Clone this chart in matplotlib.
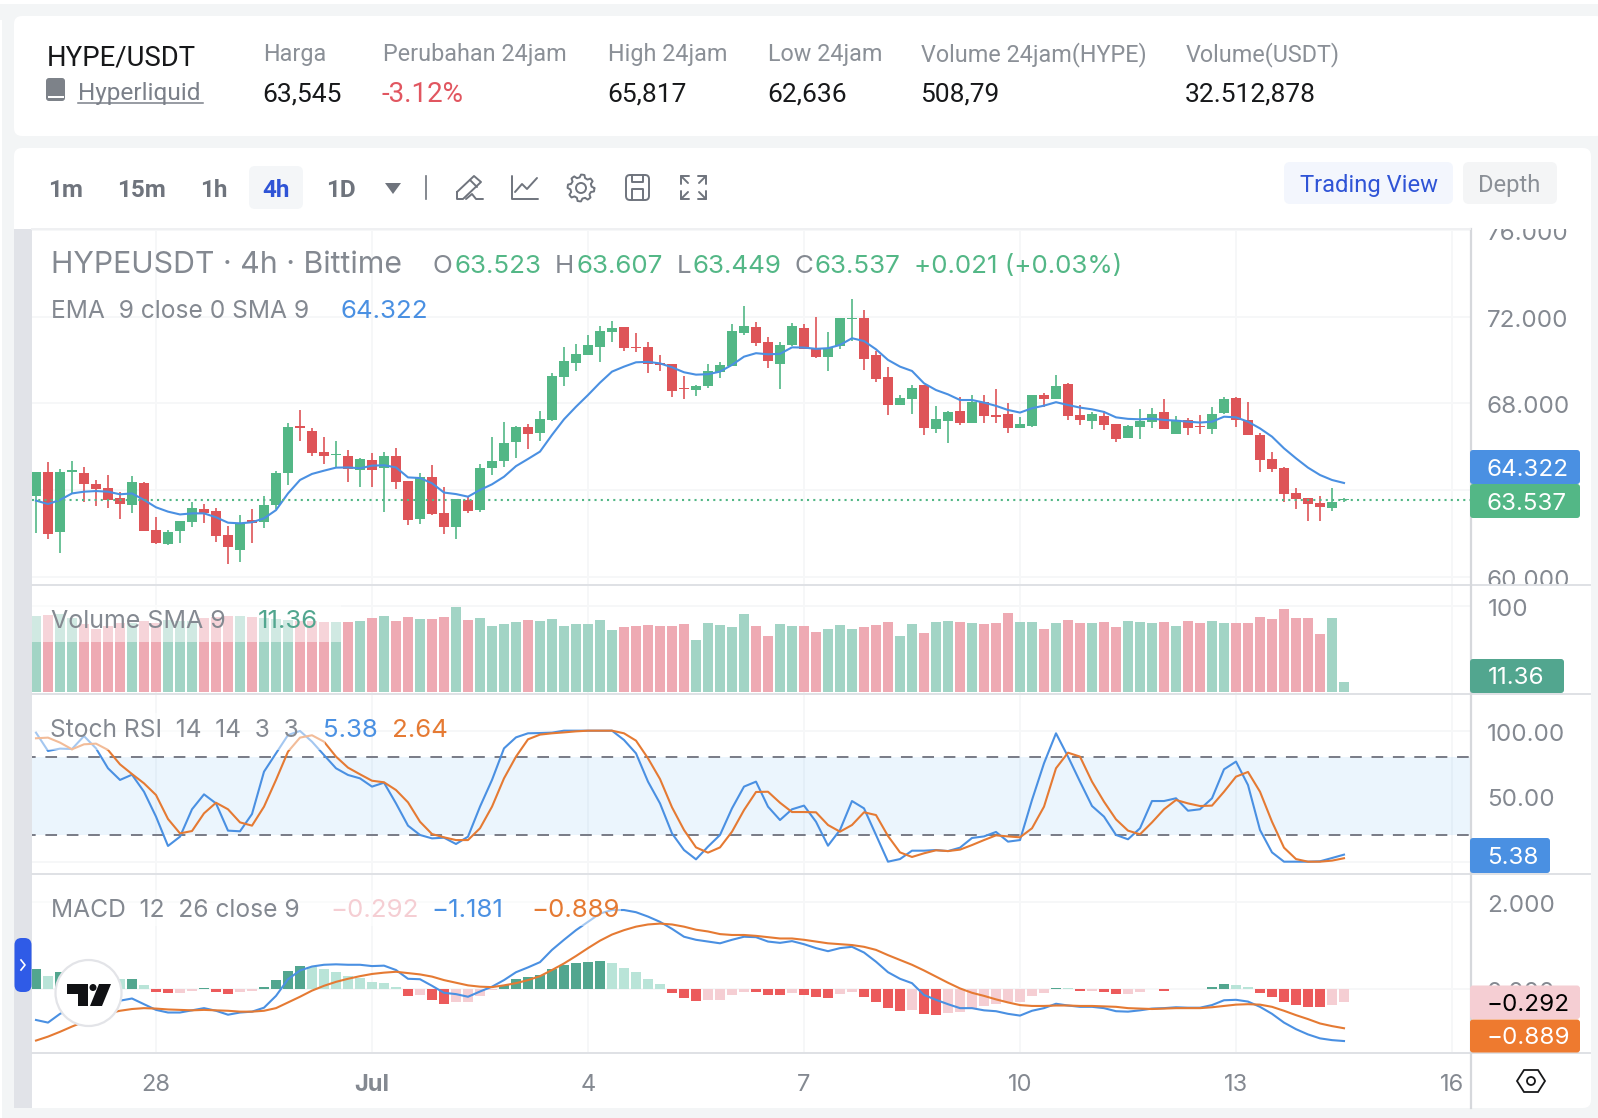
import numpy as np
import matplotlib
matplotlib.use('Agg')
import matplotlib.pyplot as plt
from matplotlib.patches import FancyBboxPatch, Rectangle, Circle, Polygon
from matplotlib.transforms import ScaledTranslation

plt.rcParams['font.family'] = ['Inter', 'DejaVu Sans']

W, H = 1598, 1118

# 4h candles
opens = [63.74, 64.83, 62.07, 64.81, 64.77, 64.27, 64.09, 63.63, 63.32, 64.32,
         62.15, 61.51, 62.11, 62.54, 63.14, 63.04, 61.91, 61.24, 62.61, 62.54,
         63.31, 64.78, 66.95, 66.72, 65.75, 65.63, 65.55, 64.94, 65.37, 65.03,
         65.55, 64.40, 62.67, 64.58, 62.92, 62.29, 63.52, 63.07, 65.01, 65.34,
         66.23, 66.91, 66.64, 67.23, 69.21, 69.87, 70.24, 70.61, 71.29, 71.52,
         70.61, 70.60, 69.86, 69.81, 68.71, 68.63, 68.80, 69.43, 69.72, 71.24,
         71.52, 70.83, 69.81, 70.69, 71.47, 70.55, 70.14, 70.64, 71.89, 71.94,
         70.23, 69.21, 67.92, 68.20, 68.84, 66.81, 67.18, 67.64, 67.09, 68.06,
         67.46, 67.51, 66.86, 66.95, 68.38, 68.20, 68.89, 67.46, 67.18, 67.41,
         67.04, 66.40, 66.91, 67.14, 67.60, 66.58, 67.23, 66.95, 66.81, 67.55,
         68.24, 67.23, 66.54, 65.43, 65.01, 63.86, 63.63, 63.40, 63.17, 63.523]
highs = [64.83, 65.27, 64.95, 65.34, 65.06, 64.46, 64.69, 63.91, 64.64, 64.38,
         62.75, 62.15, 62.57, 63.43, 63.35, 63.15, 62.34, 62.84, 63.14, 63.72,
         64.86, 67.07, 67.69, 66.84, 66.44, 66.26, 65.84, 65.47, 65.71, 65.74,
         65.94, 64.41, 64.77, 65.15, 64.14, 63.58, 63.72, 65.20, 66.44, 67.14,
         66.95, 67.03, 67.64, 69.38, 70.60, 70.74, 71.15, 71.57, 71.80, 71.52,
         71.24, 70.83, 70.23, 69.81, 69.26, 68.84, 69.81, 69.91, 71.66, 72.49,
         71.75, 71.06, 70.83, 71.71, 71.66, 71.98, 71.29, 71.94, 72.81, 72.31,
         70.41, 69.67, 68.38, 68.84, 68.86, 67.87, 67.64, 68.29, 68.38, 68.38,
         68.66, 68.00, 67.35, 68.38, 68.47, 69.31, 68.92, 67.92, 67.60, 67.64,
         67.04, 67.00, 67.74, 67.78, 68.20, 67.41, 67.32, 67.46, 67.83, 68.29,
         68.27, 68.06, 66.64, 65.75, 65.04, 64.09, 63.63, 63.72, 64.09, 63.607]
lows = [62.00, 61.75, 61.07, 63.84, 63.46, 63.26, 63.18, 62.67, 62.92, 62.12,
        61.51, 61.47, 61.57, 62.31, 62.49, 61.61, 60.60, 60.69, 61.57, 62.26,
        63.11, 64.23, 66.27, 65.58, 65.21, 65.07, 64.37, 64.15, 64.15, 63.00,
        64.04, 62.40, 62.44, 62.86, 61.98, 61.75, 62.92, 63.00, 64.69, 65.07,
        65.49, 65.91, 66.27, 67.20, 68.80, 69.51, 70.24, 69.92, 70.84, 70.43,
        70.37, 69.41, 69.51, 68.29, 68.21, 68.34, 68.72, 69.18, 69.72, 71.15,
        70.64, 69.63, 68.67, 70.64, 70.51, 70.11, 69.51, 70.51, 70.87, 69.54,
        68.98, 67.46, 67.92, 67.51, 66.54, 66.63, 66.17, 67.00, 67.07, 67.09,
        67.09, 66.64, 66.86, 66.89, 67.84, 68.20, 67.23, 67.00, 66.81, 66.77,
        66.21, 66.40, 66.35, 66.86, 66.81, 66.58, 66.54, 66.58, 66.58, 67.51,
        66.91, 66.54, 64.83, 64.83, 63.44, 63.12, 62.57, 62.57, 63.03, 63.449]
closes = [64.83, 61.98, 64.83, 64.92, 64.29, 64.04, 63.54, 63.37, 64.35, 62.12,
          61.54, 62.06, 62.57, 63.17, 62.94, 61.87, 61.38, 62.44, 62.47, 63.31,
          64.78, 66.91, 66.84, 65.71, 65.58, 65.67, 64.97, 65.43, 64.94, 65.57,
          64.38, 62.63, 64.58, 62.89, 62.31, 63.58, 63.04, 65.01, 65.34, 66.17,
          66.92, 66.60, 67.27, 69.26, 69.95, 70.27, 70.69, 71.34, 71.47, 70.55,
          70.55, 69.81, 69.77, 68.58, 68.64, 68.81, 69.49, 69.75, 71.34, 71.57,
          70.78, 69.95, 70.69, 71.57, 70.51, 70.14, 70.55, 71.94, 71.94, 70.04,
          69.12, 67.92, 68.24, 68.71, 66.86, 67.27, 67.60, 67.09, 68.07, 67.41,
          67.37, 66.86, 67.04, 68.38, 68.20, 68.80, 67.41, 67.23, 67.51, 67.00,
          66.35, 66.95, 67.18, 67.51, 66.81, 67.18, 66.86, 66.89, 67.51, 68.20,
          67.23, 66.54, 65.38, 64.97, 63.81, 63.58, 63.35, 63.21, 63.44, 63.537]

ema = [63.51, 63.35, 63.54, 63.84, 63.92, 63.95, 63.92, 63.80, 63.84, 63.54,
       63.20, 63.00, 62.87, 62.92, 62.92, 62.74, 62.49, 62.46, 62.51, 62.69,
       63.07, 63.84, 64.46, 64.74, 64.89, 65.03, 65.04, 65.00, 65.12, 65.14,
       65.04, 64.58, 64.55, 64.31, 63.88, 63.81, 63.69, 64.00, 64.26, 64.61,
       65.10, 65.43, 65.77, 66.54, 67.26, 67.84, 68.38, 68.95, 69.46, 69.69,
       69.89, 69.91, 69.84, 69.66, 69.43, 69.32, 69.34, 69.46, 69.77, 70.15,
       70.31, 70.26, 70.28, 70.58, 70.57, 70.51, 70.54, 70.69, 71.00, 70.87,
       70.49, 70.00, 69.69, 69.49, 68.92, 68.61, 68.41, 68.15, 68.15, 68.03,
       67.88, 67.69, 67.57, 67.77, 67.89, 68.05, 67.92, 67.80, 67.72, 67.60,
       67.35, 67.28, 67.26, 67.29, 67.23, 67.20, 67.15, 67.11, 67.15, 67.38,
       67.35, 67.15, 66.84, 66.46, 65.92, 65.46, 65.03, 64.69, 64.46, 64.322]

volume = [88.0, 89.1, 90.3, 85.3, 78.7, 72.5, 76.4, 79.5, 79.5, 81.8,
          79.5, 83.3, 82.6, 82.6, 85.3, 87.2, 88.0, 88.0, 86.4, 85.3,
          84.1, 83.3, 82.6, 82.2, 81.4, 81.0, 81.0, 82.2, 85.7, 88.0,
          82.2, 86.8, 84.5, 84.5, 86.8, 98.5, 83.3, 85.7, 76.4, 78.7,
          81.0, 83.3, 82.2, 84.5, 76.4, 78.7, 78.7, 83.3, 71.7, 75.2,
          76.4, 77.5, 76.4, 76.4, 78.7, 60.1, 79.8, 77.5, 75.2, 90.3,
          76.4, 64.7, 78.7, 76.4, 76.4, 69.4, 72.9, 77.5, 72.9, 75.2,
          77.5, 81.0, 64.7, 78.7, 68.2, 81.0, 82.2, 81.0, 79.8, 78.7,
          79.8, 91.5, 81.0, 81.0, 72.9, 79.8, 83.3, 79.8, 79.8, 81.0,
          75.2, 82.2, 81.0, 79.8, 81.0, 76.4, 82.2, 79.8, 82.2, 79.8,
          79.8, 79.8, 86.8, 84.5, 96.1, 85.7, 85.7, 67.1, 85.7, 11.36]

stoch_k = [98.5, 84.5, 86.3, 86.0, 95.9, 86.5, 71.3, 62.4, 66.4, 53.4,
           34.4, 12.0, 19.1, 40.0, 51.4, 44.5, 23.7, 23.2, 36.4, 68.7,
           82.7, 96.7, 99.8, 91.6, 81.4, 71.3, 66.2, 63.6, 57.3, 60.3,
           44.5, 27.5, 20.4, 17.8, 18.3, 13.5, 19.1, 42.0, 62.4, 86.5,
           94.9, 98.0, 98.2, 98.5, 100.0, 100.0, 100.0, 100.0, 100.0, 92.9,
           82.7, 61.1, 44.5, 21.6, 8.9, 1.8, 11.5, 20.4, 40.7, 57.3,
           61.1, 42.0, 31.8, 40.0, 42.8, 30.5, 12.2, 24.2, 46.3, 40.7,
           20.4, 0.0, 2.0, 8.4, 8.4, 8.9, 8.1, 10.7, 18.1, 19.3,
           22.7, 15.3, 16.5, 47.1, 75.1, 98.0, 80.2, 61.1, 42.5, 34.4,
           20.4, 17.1, 25.5, 46.3, 46.3, 48.4, 38.9, 40.0, 48.4, 70.5,
           76.4, 58.5, 24.2, 7.1, 0.0, 0.0, 0.0, 0.3, 2.8, 5.38]
stoch_d = [94.2, 94.7, 90.9, 85.8, 89.6, 90.1, 85.3, 74.3, 66.9, 59.8,
           50.9, 32.6, 21.6, 23.4, 36.9, 45.0, 40.0, 30.0, 27.5, 42.0,
           62.4, 84.0, 94.7, 96.5, 91.6, 80.2, 71.8, 66.7, 61.8, 60.6,
           54.7, 45.3, 30.5, 21.1, 18.6, 16.5, 16.5, 25.5, 42.0, 63.6,
           80.2, 93.4, 97.0, 98.0, 98.7, 99.5, 100.0, 100.0, 100.0, 98.0,
           92.4, 78.9, 63.1, 41.5, 24.2, 10.9, 6.9, 10.9, 22.9, 39.4,
           53.2, 53.4, 45.0, 37.9, 37.9, 37.7, 28.0, 22.9, 28.0, 37.7,
           35.6, 19.6, 7.1, 3.6, 6.4, 8.7, 8.1, 9.2, 12.7, 16.5,
           20.1, 19.3, 18.6, 25.5, 42.0, 71.3, 83.2, 80.2, 61.1, 45.8,
           32.3, 23.7, 20.9, 30.0, 40.0, 47.1, 44.5, 42.5, 42.8, 53.4,
           64.9, 68.5, 53.4, 30.5, 10.7, 2.0, 0.0, 0.0, 0.8, 2.64]

macd_hist = [0.464, 0.304, 0.395, 0.289, 0.213, 0.175, 0.259, 0.236, 0.236, 0.099,
             -0.068, -0.076, -0.076, -0.030, 0.038, -0.053, -0.099, -0.053, -0.030, 0.053,
             0.213, 0.418, 0.532, 0.502, 0.471, 0.395, 0.304, 0.259, 0.167, 0.144,
             0.053, -0.144, -0.129, -0.236, -0.327, -0.281, -0.281, -0.144, -0.015, 0.099,
             0.236, 0.281, 0.327, 0.464, 0.555, 0.601, 0.624, 0.646, 0.601, 0.487,
             0.395, 0.236, 0.122, -0.084, -0.198, -0.266, -0.243, -0.243, -0.129, -0.061,
             -0.061, -0.129, -0.129, -0.084, -0.129, -0.175, -0.198, -0.106, -0.061, -0.175,
             -0.289, -0.426, -0.494, -0.471, -0.563, -0.586, -0.540, -0.517, -0.426, -0.380,
             -0.335, -0.289, -0.289, -0.152, -0.084, 0.030, 0.023, -0.038, -0.038, -0.061,
             -0.106, -0.106, -0.061, 0.015, -0.038, 0.015, 0.015, 0.015, 0.053, 0.122,
             0.099, 0.053, -0.084, -0.175, -0.289, -0.357, -0.403, -0.403, -0.357, -0.292]
# G rising above zero, g falling above zero, R falling below zero, r rising below zero
macd_state = ('GgGgggGgGg' + 'RRrrGRRrrG' + 'GGGggggggg' + 'gRrRRrrrrG' + 'GGGGGGGGgg'
              + 'gggRRRrrrr' + 'RRRrRRRrrR' + 'RRRrRRrrrr' + 'rrrrrGgRrR'
              + 'RrrGRGgGGG' + 'ggRRRRRRrr')
macd_line = [-0.70, -0.76, -0.56, -0.43, -0.36, -0.28, -0.30, -0.26, -0.21, -0.34,
             -0.47, -0.53, -0.53, -0.48, -0.43, -0.49, -0.58, -0.53, -0.51, -0.42,
             -0.15, 0.23, 0.43, 0.52, 0.56, 0.57, 0.56, 0.56, 0.53, 0.54,
             0.44, 0.24, 0.23, 0.08, -0.08, -0.11, -0.17, -0.05, 0.06, 0.21,
             0.39, 0.50, 0.62, 0.90, 1.13, 1.35, 1.54, 1.73, 1.81, 1.81,
             1.76, 1.66, 1.54, 1.38, 1.20, 1.13, 1.09, 1.05, 1.13, 1.20,
             1.19, 1.09, 1.06, 1.10, 1.03, 0.94, 0.87, 0.94, 0.97, 0.84,
             0.63, 0.39, 0.24, 0.14, -0.13, -0.24, -0.34, -0.43, -0.43, -0.48,
             -0.50, -0.56, -0.60, -0.49, -0.43, -0.33, -0.37, -0.40, -0.40, -0.43,
             -0.50, -0.51, -0.48, -0.44, -0.43, -0.41, -0.42, -0.42, -0.36, -0.25,
             -0.24, -0.28, -0.40, -0.56, -0.76, -0.91, -1.03, -1.12, -1.16, -1.181]
macd_signal = [-1.17, -1.08, -0.97, -0.85, -0.74, -0.64, -0.55, -0.49, -0.45, -0.43,
               -0.44, -0.46, -0.47, -0.48, -0.47, -0.48, -0.49, -0.51, -0.51, -0.49,
               -0.43, -0.30, -0.17, -0.03, 0.08, 0.17, 0.24, 0.30, 0.35, 0.38,
               0.40, 0.37, 0.34, 0.29, 0.21, 0.15, 0.09, 0.06, 0.05, 0.09,
               0.14, 0.21, 0.30, 0.44, 0.59, 0.76, 0.94, 1.11, 1.25, 1.35,
               1.43, 1.48, 1.50, 1.48, 1.43, 1.36, 1.32, 1.26, 1.24, 1.24,
               1.22, 1.19, 1.16, 1.16, 1.13, 1.09, 1.05, 1.03, 1.01, 0.97,
               0.90, 0.78, 0.67, 0.56, 0.43, 0.29, 0.15, 0.02, -0.08, -0.15,
               -0.23, -0.30, -0.36, -0.38, -0.38, -0.37, -0.37, -0.38, -0.38, -0.39,
               -0.40, -0.43, -0.44, -0.45, -0.44, -0.43, -0.43, -0.43, -0.41, -0.38,
               -0.35, -0.34, -0.35, -0.40, -0.49, -0.59, -0.68, -0.78, -0.84, -0.889]

date_ticks = [10, 28, 46, 64, 82, 100, 118]
date_labels = ['28', 'Jul', '4', '7', '10', '13', '16']

price_ticks = [60, 64, 68, 72, 76]
price_labels = [60, 68, 72, 76]

UP = '#53b786'
DOWN = '#de5458'
BLUE = '#4a90e2'
ORANGE = '#e57a33'
GREY = '#848991'
GRID = '#f6f7f8'
SEP = '#dfe1e5'
MACD_COLORS = {'G': '#52a68f', 'g': '#b9e4d8', 'R': '#ec5a5b', 'r': '#f5ced3'}

LEFT, RIGHT, EDGE = 32, 1470, 1590
SCALE_SIZE = 17.4
n = len(closes)
idx = np.arange(n)
bull = np.array(closes) >= np.array(opens)


def px_axes(x0, y0, x1, y1, z):
    ax = fig.add_axes([x0 / W, 1 - y1 / H, (x1 - x0) / W, (y1 - y0) / H], zorder=z)
    return ax


def make_pane(y0, y1, ylim):
    ax = px_axes(LEFT, y0, RIGHT, y1, 2)
    ax.set_xlim(-1 / 3, 119.5)
    ax.set_ylim(*ylim)
    ax.axis('off')
    ax.patch.set_visible(False)
    ax.vlines(date_ticks, *ylim, color=GRID, lw=1.4, zorder=0)
    scale = px_axes(RIGHT, y0, EDGE, y1, 2)
    scale.set_xlim(RIGHT, EDGE)
    scale.set_ylim(*ylim)
    scale.axis('off')
    return ax, scale


def scale_text(axis, x, v, s):
    # nudged down a little so the digits sit on the grid level
    shift = axis.transData + ScaledTranslation(0, -1.5 / 100, fig.dpi_scale_trans)
    axis.text(x, v, s, color=GREY, fontsize=SCALE_SIZE, va='center_baseline',
              clip_on=True, transform=shift)


fig = plt.figure(figsize=(W / 100, H / 100), dpi=100, facecolor='#f3f5f6')

# page background and cards
bg = px_axes(0, 0, W, H, 0)
bg.set_xlim(0, W)
bg.set_ylim(H, 0)
bg.axis('off')
bg.add_patch(Rectangle((0, 0), W, 4, fc='white', ec='none'))
bg.add_patch(Rectangle((0, 20), 2, H - 20, fc='white', ec='none'))
for x, y, w, h in [(14, 16, 1590, 120), (14, 148, 1577, 960)]:
    bg.add_patch(FancyBboxPatch((x, y), w, h, boxstyle='round,pad=0,rounding_size=8',
                                fc='white', ec='none'))
bg.add_patch(Rectangle((14, 229), 18, 879, fc='#e1e3e8', ec='none'))

# candle pane
ax, sc = make_pane(229, 585, (59.615, 76.04))
ax.hlines(price_ticks, -1, 120, color=GRID, lw=1.4, zorder=0)
colors = [UP if b else DOWN for b in bull]
ax.vlines(idx, lows, highs, color=colors, lw=1.2, zorder=3)
body = np.maximum(np.abs(np.array(closes) - np.array(opens)), 0.05)
ax.bar(idx, body, bottom=np.minimum(opens, closes), width=0.83, color=colors, zorder=3)
ax.plot(idx, ema, color=BLUE, lw=1.5, zorder=4)
ax.axhline(closes[-1], color=UP, lw=1.5, ls=(0, (1, 2)), zorder=5)
for p in price_labels:
    scale_text(sc, 1487, p, f'{p}.000')

# volume pane
ax, sc = make_pane(585, 694, (-2.67, 124))
ax.axhline(100, color=GRID, lw=1.4, zorder=0)
vol_colors = ['#a2d4c5' if b else '#eeaab3' for b in bull]
ax.bar(idx, volume, width=0.85, color=vol_colors, zorder=3)
scale_text(sc, 1488, 100, '100')

# stoch rsi pane
ax, sc = make_pane(694, 874, (-9.4, 128))
ax.hlines([0, 100], -1, 120, color=GRID, lw=1.4, zorder=0)
ax.axhspan(20, 80, color='#2196f3', alpha=0.085, lw=0, zorder=1)
ax.hlines([20, 80], -1, 120, color='#787b86', lw=1.4, ls=(0, (6, 5)), zorder=2)
ax.plot(idx, stoch_k, color=BLUE, lw=1.5, zorder=4)
ax.plot(idx, stoch_d, color=ORANGE, lw=1.5, zorder=5)
for v in [100, 50]:
    scale_text(sc, 1487, v, f'{v}.00')

# macd pane
ax, sc = make_pane(874, 1053, (-1.454, 2.632))
ax.hlines([0, 2], -1, 120, color=GRID, lw=1.4, zorder=0)
ax.bar(idx, macd_hist, width=0.85, color=[MACD_COLORS[s] for s in macd_state], zorder=3)
ax.plot(idx, macd_line, color=BLUE, lw=1.5, zorder=4)
ax.plot(idx, macd_signal, color=ORANGE, lw=1.5, zorder=5)
for v in [2, 0]:
    scale_text(sc, 1487, v, f'{v}.000')

# date axis
xa = px_axes(LEFT, 1053, RIGHT, 1108, 2)
xa.set_xlim(-1 / 3, 119.5)
xa.set_ylim(1, 0)
xa.axis('off')
for t, lab in zip(date_ticks, date_labels):
    xa.text(t, 0.53, lab, color=GREY, fontsize=17, ha='center', va='center_baseline',
            fontweight='bold' if lab == 'Jul' else 'normal')

# everything above the panes
ui = px_axes(0, 0, W, H, 5)
ui.set_xlim(0, W)
ui.set_ylim(H, 0)
ui.axis('off')
ui.patch.set_visible(False)


def label(x, y, s, size, color, font='Roboto', **kw):
    kw.setdefault('va', 'center_baseline')
    return ui.text(x, y, s, fontsize=size, color=color, family=font, **kw)


def box(x, y, w, h, color, r=6, alpha=None, z=1):
    ui.add_patch(FancyBboxPatch((x, y), w, h, boxstyle=f'round,pad=0,rounding_size={r}',
                                fc=color, ec='none', alpha=alpha, zorder=z))


# separators
for y in [585, 694, 874, 1053]:
    ui.plot([LEFT, EDGE], [y, y], color=SEP, lw=1.4, zorder=2)
ui.plot([RIGHT + 1, RIGHT + 1], [229, 1108], color='#d6d8dc', lw=1.6, zorder=2)
ui.plot([LEFT, RIGHT], [229, 229], color='#eff0f2', lw=1.4, zorder=2)

# market summary row
label(47, 55, 'HYPE/USDT', 19.8, '#17181a')
label(78, 91, 'Hyperliquid', 17.6, '#7b8089')
ui.plot([78, 203], [102.5, 102.5], color='#7b8089', lw=1.1)
box(46, 78, 19, 23, '#7d8289', r=3)
ui.add_patch(Rectangle((48, 96), 16, 2, fc='white', ec='none', zorder=2))
for x, cap, val, col, size in [(263, 'Harga', '63,545', '#17181a', 19),
                               (383, 'Perubahan 24jam', '-3.12%', '#e15660', 20),
                               (608, 'High 24jam', '65,817', '#17181a', 19),
                               (768, 'Low 24jam', '62,636', '#17181a', 19),
                               (921, 'Volume 24jam(HYPE)', '508,79', '#17181a', 19),
                               (1186, 'Volume(USDT)', '32.512,878', '#17181a', 19)]:
    label(x, 52, cap, 16.8, '#8b9097')
    label(x - 1, 92, val, size, col)

# toolbar
box(249, 166, 54, 43, '#f4f6f8', r=6)
for x, s, col in [(48, '1m', '#6f747d'), (117, '15m', '#6f747d'), (200, '1h', '#6f747d'),
                  (262, '4h', '#2f54d6'), (326, '1D', '#6f747d')]:
    label(x, 188, s, 17.5, col, fontweight='bold', zorder=3)
ui.add_patch(Polygon([(385, 183), (401, 183), (393, 194)], fc='#6f747d', ec='none'))
ui.plot([426, 426], [176, 199], color='#6f747d', lw=1.2)
ICON = dict(color='#6f747d', lw=1.4, solid_joinstyle='round', solid_capstyle='round')
# pencil
ui.plot([457, 474, 481, 463, 457, 457], [192, 176, 182, 199, 199, 192], **ICON)
ui.plot([470, 477], [180, 187], **ICON)
ui.plot([466, 472, 476, 483], [199, 194, 199, 199], **ICON)
# indicators
ui.plot([512, 512, 538], [176, 199, 199], **ICON)
ui.plot([515, 522, 527, 537], [192, 184, 189, 178], **ICON)
# gear
ang = np.linspace(0, 2 * np.pi, 49)
rad = 12 + 1.4 * np.sign(np.sin(8 * ang + 0.4))
ui.plot(581 + rad * np.cos(ang), 188 + rad * np.sin(ang), **ICON)
ui.add_patch(Circle((581, 188), 5, fc='none', ec='#6f747d', lw=1.4))
# save
ui.add_patch(FancyBboxPatch((626, 175), 23, 25, boxstyle='round,pad=0,rounding_size=4',
                            fc='none', ec='#6f747d', lw=1.4))
ui.plot([632, 632, 643, 643], [175, 182, 182, 175], **ICON)
ui.plot([632, 632, 643, 643], [200, 189, 189, 200], **ICON)
# fullscreen
for sx, sy, cx, cy in [(1, 1, 681, 176), (-1, 1, 706, 176), (1, -1, 681, 199), (-1, -1, 706, 199)]:
    ui.plot([cx + sx * 8, cx, cx], [cy, cy, cy + sy * 8], **ICON)
    ui.plot([cx, cx + sx * 7], [cy, cy + sy * 7], **ICON)

box(1284, 162, 169, 42, '#f3f6fd', r=6)
box(1463, 162, 94, 42, '#f4f5f6', r=6)
label(1300, 183, 'Trading View', 17.1, '#2f54d6', zorder=3)
label(1478, 183, 'Depth', 17.1, '#8b9097', zorder=3)

# pane legends
ui.add_patch(Rectangle((LEFT, 605), 309, 37, fc='white', alpha=0.5, ec='none', zorder=1))
ui.add_patch(Rectangle((LEFT, 713), 293, 37, fc='white', alpha=0.5, ec='none', zorder=1))
ui.add_patch(Rectangle((LEFT, 890), 589, 36, fc='white', alpha=0.5, ec='none', zorder=1))
label(51, 262, 'HYPEUSDT · 4h · Bittime', 21.8, GREY, font='Inter')
for x, s, col in [(432, 'O', GREY), (454, '63.523', UP), (555, 'H', GREY), (576, '63.607', UP),
                  (677, 'L', GREY), (693, '63.449', UP), (794, 'C', GREY), (814, '63.537', UP),
                  (914, '+0.021 (+0.03%)', UP)]:
    label(x, 264, s, 18.7, col, font='Inter')
label(51, 309, 'EMA  9 close 0 SMA 9', 17.7, GREY, font='Inter')
label(340, 309, '64.322', 18.6, BLUE, font='Inter')
label(51, 619, 'Volume SMA 9', 18, GREY, font='Inter', zorder=3)
label(258, 619, '11.36', 18.6, '#52a68f', font='Inter', zorder=3)
label(50, 728, 'Stoch RSI  14  14  3  3', 17.7, GREY, font='Inter', zorder=3)
label(323, 728, '5.38', 18.6, BLUE, font='Inter', zorder=3)
label(392, 728, '2.64', 18.6, ORANGE, font='Inter', zorder=3)
label(51, 908, 'MACD  12  26 close 9', 17.7, GREY, font='Inter', zorder=3)
label(330, 908, '−0.292', 18.6, '#f5ced3', font='Inter', zorder=3)
label(431, 908, '−1.181', 18.6, BLUE, font='Inter', zorder=3)
label(531, 908, '−0.889', 18.6, ORANGE, font='Inter', zorder=3)

# last value tags on the scales
for y, w, h, col, txt, tc, tx in [(450, 110, 34, BLUE, '64.322', 'white', 1487),
                                  (484, 110, 34, UP, '63.537', 'white', 1487),
                                  (659, 94, 34, '#52a68f', '11.36', 'white', 1488),
                                  (838, 80, 35, BLUE, '5.38', 'white', 1487),
                                  (985.5, 110, 33.5, '#f5ced3', '−0.292', 'black', 1487),
                                  (1019.5, 110, 33, '#ee7a2f', '−0.889', 'white', 1487)]:
    box(RIGHT, y, w, h, col, r=3, z=3)
    ui.text(tx, y + h / 2, txt, color=tc, fontsize=SCALE_SIZE, va='center_baseline', zorder=4)

# scale settings button
ui.add_patch(Polygon([(1517, 1081), (1524, 1070), (1538, 1070), (1545, 1081), (1538, 1092), (1524, 1092)],
                     fc='none', ec='#17181a', lw=1.3))
ui.add_patch(Circle((1531, 1081), 4, fc='none', ec='#17181a', lw=1.3))

# panel collapse tab
box(14.5, 938, 17, 54, '#2f5be7', r=7, z=6)
ui.plot([21, 25, 21], [960, 965, 970], color='white', lw=1.2, zorder=7)

# chart logo
ui.add_patch(Circle((88.5, 993), 33, fc='white', ec='#e3e4e8', lw=1.6, zorder=6))
ui.add_patch(Polygon([(67, 984), (88, 984), (88, 1006), (78, 1006), (78, 994), (67, 994)],
                     fc='#101114', ec='none', zorder=7))
ui.add_patch(Circle((93, 987.5), 3.5, fc='#101114', ec='none', zorder=7))
ui.add_patch(Polygon([(99, 984), (111, 984), (102, 1006), (90, 1006)], fc='#101114', ec='none', zorder=7))

fig.savefig('out.png', dpi=100, facecolor=fig.get_facecolor())
